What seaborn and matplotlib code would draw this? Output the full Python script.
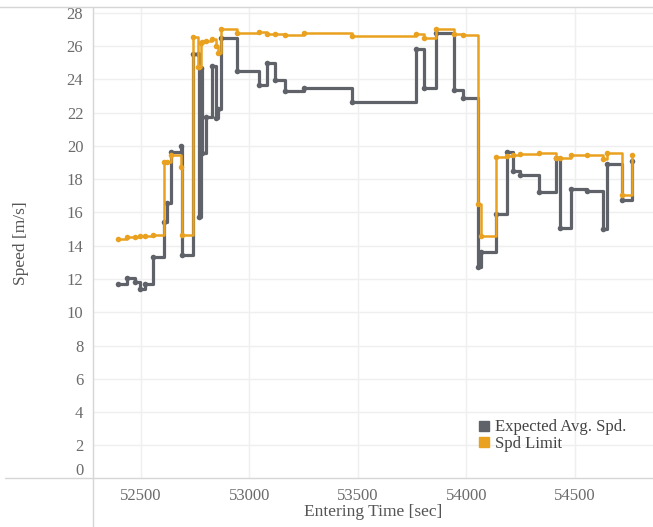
import matplotlib
matplotlib.use('Agg')
import matplotlib.pyplot as plt
from matplotlib.lines import Line2D
import seaborn as sns
import pandas as pd

sns.set_theme(style="white")
plt.rcParams['font.family'] = ['Liberation Serif', 'DejaVu Serif']

# entering times [sec] shared by both series
times = [52394, 52436, 52474, 52497, 52520, 52558, 52605, 52622, 52641, 52684,
         52689, 52742, 52762, 52770, 52776, 52784, 52799, 52827, 52845, 52857,
         52871, 52942, 53046, 53080, 53118, 53164, 53252, 53474, 53767, 53804,
         53860, 53942, 53985, 54052, 54068, 54136, 54185, 54213, 54246, 54335,
         54411, 54430, 54480, 54553, 54627, 54645, 54715, 54764]

expected = [11.68, 12.08, 11.84, 11.42, 11.72, 13.34, 15.45, 16.55, 19.62, 20.00,
            13.44, 25.52, 25.52, 15.71, 24.66, 19.55, 21.76, 24.80, 21.66, 22.20,
            26.46, 24.52, 23.66, 24.96, 23.96, 23.32, 23.46, 22.66, 25.82, 23.50,
            26.80, 23.36, 22.86, 12.72, 13.62, 15.92, 19.62, 18.51, 18.27, 17.25,
            19.25, 15.09, 17.39, 17.29, 15.03, 18.91, 16.75, 19.11]

spd_limit = [14.42, 14.50, 14.52, 14.59, 14.60, 14.63, 19.05, 19.05, 19.45, 18.75,
             14.65, 26.52, 24.76, 24.76, 26.16, 26.25, 26.30, 26.40, 26.00, 25.60,
             27.00, 26.77, 26.82, 26.70, 26.72, 26.68, 26.77, 26.60, 26.72, 26.50,
             27.00, 26.72, 26.65, 16.50, 14.58, 19.31, 19.41, 19.45, 19.49, 19.55,
             19.29, 19.25, 19.45, 19.45, 19.19, 19.55, 17.05, 19.45]

series_names = ['Expected Avg. Spd.', 'Spd Limit']
colors = ['#5f6268', '#e9a11f']
x_ticks = [52500, 53000, 53500, 54000, 54500]
y_ticks = list(range(0, 29, 2))

df = pd.DataFrame({
    'time': times * 2,
    'speed': expected + spd_limit,
    'series': [series_names[0]] * len(times) + [series_names[1]] * len(times),
})

W, H = 653, 527
fig = plt.figure(figsize=(W / 100, H / 100), dpi=100)
ax = fig.add_axes([93 / W, 1 - 478.7 / H, 560 / W, (478.7 - 7) / H])

for name, col, lw in zip(series_names, colors, [2.3, 1.8]):
    sns.lineplot(data=df[df['series'] == name], x='time', y='speed', color=col,
                 estimator=None, sort=False, drawstyle='steps-post',
                 marker='o', markersize=4, markeredgewidth=0, linewidth=lw,
                 ax=ax, legend=False)

ax.set_xlim(52280, 54859)
ax.set_ylim(0, 28.34)
ax.set_xticks(x_ticks)
ax.set_yticks(y_ticks)
ax.set_xticklabels([str(v) for v in x_ticks])
ax.set_yticklabels([str(v) for v in y_ticks])
ax.grid(True, color='#efefef', linewidth=1)
ax.set_axisbelow(True)
for s in ax.spines.values():
    s.set_visible(False)
ax.tick_params(axis='both', length=0, labelsize=12, colors='#6b6b6b')
ax.tick_params(axis='x', pad=7)
ax.tick_params(axis='y', pad=7)
ax.get_yticklabels()[0].set_verticalalignment('bottom')

ax.set_xlabel('Entering Time [sec]', fontsize=12.5, color='#555555', labelpad=0)
ax.set_ylabel('Speed [m/s]', fontsize=12.5, color='#555555', labelpad=27)

# pane borders
line_col = '#d6d6d6'
fig.add_artist(Line2D([5 / W, 1], [1 - 478 / H] * 2, color=line_col, lw=1, transform=fig.transFigure))
fig.add_artist(Line2D([93 / W] * 2, [0, 1 - 7 / H], color=line_col, lw=1, transform=fig.transFigure))
fig.add_artist(Line2D([0, 1], [1 - 7 / H] * 2, color=line_col, lw=1, transform=fig.transFigure))

handles = [Line2D([], [], marker='s', ls='', color=c, markersize=7) for c in colors]
fig.legend(handles, series_names, loc='upper left', bbox_to_anchor=(470 / W, 1 - 411 / H),
           frameon=False, fontsize=12, handlelength=0.7, handletextpad=0.3,
           labelspacing=0.05, borderpad=0, labelcolor='#444444')

fig.savefig('out.png', dpi=100)
